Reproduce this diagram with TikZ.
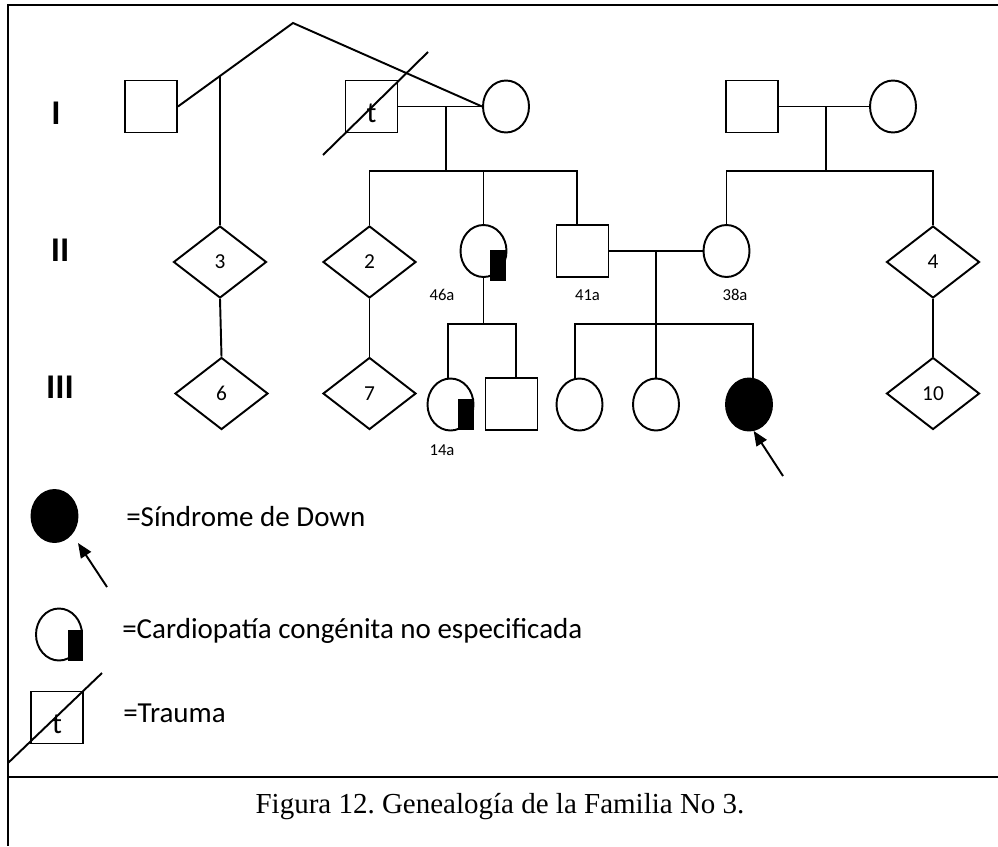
\documentclass[tikz,border=0pt]{standalone}
\usepackage{fontspec}
\setmainfont{Carlito}
\newfontfamily\capfont{Liberation Serif}
\usetikzlibrary{shapes.geometric,arrows.meta,calc}
\frenchspacing
\begin{document}
\begin{tikzpicture}[x=0.75pt,y=-0.75pt,
  ln/.style={line width=1.45pt},
  frameline/.style={line width=1.8pt},
  sq/.style={draw,ln,rectangle,minimum width=39pt,minimum height=39pt,inner sep=0pt},
  ci/.style={draw,ln,ellipse,minimum width=34.5pt,minimum height=39pt,inner sep=0pt},
  dm/.style={draw,ln,diamond,minimum width=69.75pt,minimum height=54pt,inner sep=0pt,font=\fontsize{16}{18}\selectfont},
  tlab/.style={font=\fontsize{22}{24}\selectfont,inner sep=0pt,anchor=base},
  age/.style={font=\fontsize{12.5}{14}\selectfont,inner sep=0pt},
  gen/.style={font=\bfseries\fontsize{26}{28}\selectfont,inner sep=0pt},
  leg/.style={font=\fontsize{21.75}{24}\selectfont,anchor=base west,inner sep=0pt},
  arr/.style={ln,-{Triangle[length=11pt,width=9pt]}},
  blk/.style={fill=black}
]
\useasboundingbox (0,0) rectangle (998,846);
% frame
\draw[frameline] (998,5) -- (8,5) -- (8,846);
\draw[frameline] (8,777) -- (998,777);

% generation labels
\node[gen] (gI) at (56,113) {I};
\node[gen] (gII) at (60,250) {II};
\node[gen] (gIII) at (60,387) {III};

% generation I
\node[sq] (s1) at (151,106.5) {};
\node[sq] (st) at (371.5,106.5) {};
\node[tlab] (tt) at ($(st.center)+(0,15.5)$) {t};
\node[ci] (c1) at (506,106.5) {};
\node[sq] (s2) at (752,106.5) {};
\node[ci] (c2) at (893,106.5) {};

% generation II
\node[dm] (d3) at (220,262) {3};
\node[dm] (d2) at (369.5,262) {2};
\node[ci] (c46) at (483.5,251) {};
\node[sq] (s41) at (582.5,251) {};
\node[ci] (c38) at (726.5,251) {};
\node[dm] (d4) at (933,262) {4};

% generation III
\node[dm] (d6) at (221.5,393.5) {6};
\node[dm] (d7) at (369.5,393.5) {7};
\node[ci] (c14) at (450.5,404.5) {};
\node[sq] (s3) at (511.5,404) {};
\node[ci] (cA) at (579.5,404.5) {};
\node[ci] (cB) at (656,404.5) {};
\node[ci,fill=black] (cD) at (749,404.5) {};
\node[dm] (d10) at (933,393.5) {10};

% ages
\node[age] (a46) at (442,295) {46a};
\node[age] (a41) at (587.5,295) {41a};
\node[age] (a38) at (735,295) {38a};
\node[age] (a14) at (442,450) {14a};

% marks for cardiopathy
\fill[blk] ($(c46.center)+(6.5,-1)$) rectangle ++(16,31);
\fill[blk] ($(c14.center)+(7.5,-5.5)$) rectangle ++(16,31);

% trauma diagonal
\coordinate (tdA) at (323,155);
\coordinate (tdB) at (428,52);
\draw[ln] (tdA) -- (tdB);

% union of s1 with c1 (via apex)
\coordinate (apex) at (293,23);
\draw[ln] (s1.east) -- (apex) -- (c1.west);
\coordinate (j3) at (intersection of s1.east--apex and d3.north--d3.center);
\draw[ln] (j3) -- (d3.north);

% st + c1
\draw[ln] (st.east) -- (c1.west);
\coordinate (m1) at (446,106.5);
\coordinate (b1) at (446,171);
\draw[ln] (m1) -- (b1);
\coordinate (k41) at (577,171);
\draw[ln] (d2.north) |- (k41) -- (s41.north -| k41);
\draw[ln] (c46.north) -- (c46.north |- b1);

% s2 + c2
\draw[ln] (s2.east) -- (c2.west);
\coordinate (m2) at (826,106.5);
\coordinate (b2) at (826,171);
\draw[ln] (m2) -- (b2);
\draw[ln] (c38.north) |- (b2) -| (d4.north);

% lines diamonds
\draw[ln] (d3.south) -- (d6.north);
\draw[ln] (d2.south) -- (d7.north);
\draw[ln] (d4.south) -- (d10.north);

% s41 + c38
\draw[ln] (s41.east) -- (c38.west);
\coordinate (m3) at (656,251);
\coordinate (b3) at (656,324);
\draw[ln] (m3) -- (b3);
\coordinate (kA) at (575,324);
\coordinate (kD) at (753,324);
\draw[ln] (cA.north -| kA) -- (kA) -- (kD) -- (cD.north -| kD);
\draw[ln] (cB.north) -- (cB.north |- b3);

% c46 children
\coordinate (b4) at (483.5,324);
\draw[ln] (c46.south) -- (b4);
\coordinate (k14) at (448,324);
\coordinate (k3) at (516,324);
\draw[ln] (c14.north -| k14) -- (k14) -- (k3) -- (s3.north -| k3);

% proband arrow
\coordinate (pt) at (783,476);
\draw[arr] (pt) -- (cD.-80);

% legend
\node[ci,fill=black] (lD) at (54.5,516) {};
\coordinate (lat) at (107,587);
\coordinate (lah) at (78,543);
\draw[arr] (lat) -- (lah);
\node[leg] (tD) at (126,526) {=Síndrome de Down};

\node[ci] (lC) at (59,634.5) {};
\fill[blk] ($(lC.center)+(9,-4.5)$) rectangle ++(15,31);
\node[leg] (tC) at (122,638) {=Cardiopatía congénita no especificada};

\node[sq] (lT) at (57,717.5) {};
\node[tlab] (ltt) at ($(lT.center)+(0,15.5)$) {t};
\coordinate (ldA) at (8,763);
\coordinate (ldB) at (102,673);
\draw[ln] (ldA) -- (ldB);
\node[leg] (tT) at (123,722) {=Trauma};

% caption
\node[font=\capfont\fontsize{21.75}{24}\selectfont,anchor=base,inner sep=0pt] (cap) at (500,813) {Figura 12. Genealogía de la Familia No 3.};
\end{tikzpicture}
\end{document}
